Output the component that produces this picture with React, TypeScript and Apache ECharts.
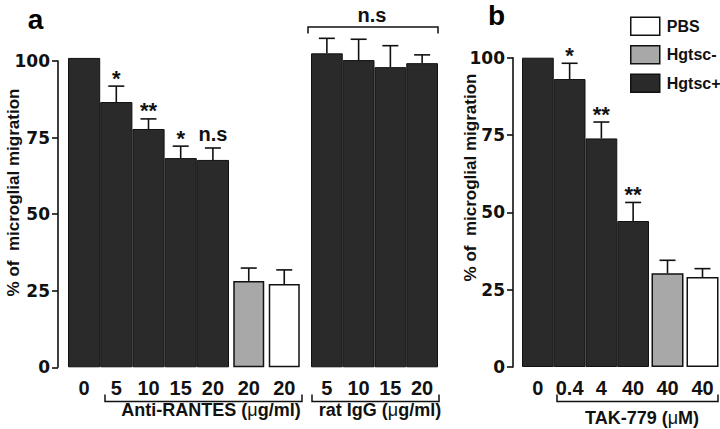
import React, { useEffect, useRef } from "react";
import * as echarts from "echarts";

// ---- data ----
const antiRantesDoses = ["0", "5", "10", "15", "20"];
const antiRantesMean = [101, 86.6, 77.8, 68.3, 67.7];
const antiRantesSem = [0, 5.2, 3.3, 3.9, 3.9];
const antiRantesSig = ["", "*", "**", "*", "n.s"];

const controlADoses = ["20", "20"];
const controlAHgtscMinus = [28.2, "-"];
const controlAPbs = ["-", 27.2];
const controlAMean = [28.2, 27.2];
const controlASem = [4.2, 4.6];

const ratIgGDoses = ["5", "10", "15", "20"];
const ratIgGMean = [102.5, 100.3, 98.0, 99.3];
const ratIgGSem = [4.9, 6.8, 7.0, 2.7];

const takDoses = ["0", "0.4", "4", "40"];
const takMean = [100, 93.1, 73.9, 47.2];
const takSem = [0, 5.1, 5.3, 6.0];
const takSig = ["", "*", "**", "**"];

const controlBDoses = ["40", "40"];
const controlBHgtscMinus = [30.3, "-"];
const controlBPbs = ["-", 29.1];
const controlBMean = [30.3, 29.1];
const controlBSem = [4.2, 2.7];

const legendNames = ["PBS", "Hgtsc-", "Hgtsc+"];

// ---- styles ----
const BLACK = "#2a2a2a";
const GRAY = "#a8a8a8";
const WHITE = "#ffffff";
const LINE = "#111111";
const SANS = "'Liberation Sans', Arial, Helvetica, sans-serif";
const DEJAVU = "'DejaVu Sans', sans-serif";

const errData = (mean: number[], sem: number[]) => mean.map((m, i) => [i, m, sem[i]]);

function errRender(sig: string[] | null) {
  return (params: any, api: any) => {
    const i = api.value(0);
    const v = api.value(1);
    const e = api.value(2);
    const base = api.coord([i, v]);
    const top = api.coord([i, v + e]);
    const children: any[] = [];
    if (e > 0) {
      children.push({
        type: "line",
        shape: { x1: base[0], y1: base[1], x2: top[0], y2: top[1] },
        style: { stroke: LINE, lineWidth: 1.6 },
      });
      children.push({
        type: "line",
        shape: { x1: top[0] - 8, y1: top[1], x2: top[0] + 8, y2: top[1] },
        style: { stroke: LINE, lineWidth: 1.6 },
      });
    }
    const s = sig ? sig[params.dataIndex] : "";
    if (s) {
      const star = s.indexOf("*") >= 0;
      children.push({
        type: "text",
        x: top[0],
        y: top[1] - (star ? 8 : 14),
        style: {
          text: s,
          fill: LINE,
          fontSize: star ? 22 : 20,
          fontWeight: "bold",
          fontFamily: SANS,
          align: "center",
          verticalAlign: "middle",
          textAlign: "center",
          textVerticalAlign: "middle",
        },
      });
    }
    return { type: "group", children };
  };
}

export default function App() {
  const ref = useRef<HTMLDivElement>(null);

  useEffect(() => {
    if (!ref.current) return;
    const chart = echarts.init(ref.current, null, { renderer: "svg" });

    const gridsDef = [
      { left: 68, top: 61, width: 161, height: 306.3 },
      { left: 231, top: 61, width: 71, height: 306.3 },
      { left: 311, top: 61, width: 127, height: 306.3 },
      { left: 522, top: 57.7, width: 127, height: 309.3 },
      { left: 650, top: 57.7, width: 70, height: 309.3 },
    ];
    const grids = gridsDef.map((g) => ({ ...g, containLabel: false, outerBoundsMode: "none" }));

    const catLists = [antiRantesDoses, controlADoses, ratIgGDoses, takDoses, controlBDoses];
    const xAxes = catLists.map((cats, idx) => ({
      type: "category",
      gridIndex: idx,
      data: cats,
      boundaryGap: true,
      axisLine: { show: false },
      axisTick: { show: false },
      axisLabel: {
        color: LINE,
        fontFamily: SANS,
        fontWeight: "bold",
        fontSize: 20,
        margin: 11,
        interval: 0,
      },
    }));

    const shownY = (idx: number, offset: number) => ({
      type: "value",
      gridIndex: idx,
      min: 0,
      max: 100,
      interval: 25,
      offset,
      axisLine: { show: true, lineStyle: { color: LINE, width: 1.6 } },
      axisTick: { show: true, length: 6, inside: false, lineStyle: { color: LINE, width: 1.6 } },
      splitLine: { show: false },
      axisLabel: {
        color: LINE,
        fontFamily: DEJAVU,
        fontWeight: "bold",
        fontSize: 17,
        margin: 8,
      },
    });
    const hiddenY = (idx: number) => ({
      type: "value",
      gridIndex: idx,
      min: 0,
      max: 100,
      interval: 25,
      show: false,
      splitLine: { show: false },
    });
    const yAxes = [shownY(0, 10), hiddenY(1), hiddenY(2), shownY(3, 9), hiddenY(4)];

    const blackStyle = { color: BLACK, borderColor: LINE, borderWidth: 1 };
    const grayStyle = { color: GRAY, borderColor: LINE, borderWidth: 1.5 };
    const whiteStyle = { color: WHITE, borderColor: LINE, borderWidth: 1.5 };

    const bar = (name: string, axis: number, data: any[], style: any, width: any, extra: any = {}) => ({
      type: "bar",
      name,
      xAxisIndex: axis,
      yAxisIndex: axis,
      data,
      barWidth: width,
      itemStyle: style,
      clip: false,
      silent: true,
      ...extra,
    });

    const err = (axis: number, data: any[], sig: string[] | null) => ({
      type: "custom",
      xAxisIndex: axis,
      yAxisIndex: axis,
      data,
      clip: false,
      silent: true,
      z: 5,
      encode: { x: 0, y: 1 },
      renderItem: errRender(sig),
    });

    const series = [
      bar("Hgtsc+", 0, antiRantesMean, blackStyle, "100%"),
      bar("Hgtsc-", 1, controlAHgtscMinus, grayStyle, 31),
      bar("PBS", 1, controlAPbs, whiteStyle, 31, { barGap: "-100%" }),
      bar("Hgtsc+", 2, ratIgGMean, blackStyle, "100%"),
      bar("Hgtsc+", 3, takMean, blackStyle, "100%"),
      bar("Hgtsc-", 4, controlBHgtscMinus, grayStyle, 32),
      bar("PBS", 4, controlBPbs, whiteStyle, 32, { barGap: "-100%" }),
      err(0, errData(antiRantesMean, antiRantesSem), antiRantesSig),
      err(1, errData(controlAMean, controlASem), null),
      err(2, errData(ratIgGMean, ratIgGSem), null),
      err(3, errData(takMean, takSem), takSig),
      err(4, errData(controlBMean, controlBSem), null),
    ];

    const legendStyles: Record<string, any> = {
      PBS: { color: WHITE, borderColor: LINE, borderWidth: 1.5 },
      "Hgtsc-": { color: GRAY, borderColor: LINE, borderWidth: 1.5 },
      "Hgtsc+": { color: BLACK, borderColor: LINE, borderWidth: 1.5 },
    };

    const titleText = (text: string, x: number, y: number, rotate = false) => ({
      type: "text",
      x,
      y,
      rotation: rotate ? Math.PI / 2 : 0,
      silent: true,
      style: {
        text,
        fill: LINE,
        fontSize: 17,
        fontWeight: "bold",
        fontFamily: SANS,
        textAlign: "center",
        textVerticalAlign: "middle",
        align: "center",
        verticalAlign: "middle",
      },
    });

    const muText = (before: string, after: string, x: number, y: number) => ({
      type: "text",
      x,
      y,
      silent: true,
      style: {
        text: `{b|${before}}{m|μ}{b|${after}}`,
        textAlign: "center",
        textVerticalAlign: "middle",
        align: "center",
        verticalAlign: "middle",
        rich: {
          b: { fontSize: 18, fontWeight: "bold", fontFamily: SANS, fill: LINE, color: LINE },
          m: { fontSize: 18, fontWeight: "normal", fontFamily: SANS, fill: LINE, color: LINE },
        },
      },
    });

    const bracket = (pts: number[][]) => ({
      type: "polyline",
      silent: true,
      shape: { points: pts },
      style: { stroke: LINE, lineWidth: 1.5, fill: "none" },
    });

    const letter = (t: string, x: number, y: number) => ({
      type: "text",
      x,
      y,
      silent: true,
      style: {
        text: t,
        fill: "#000",
        fontSize: 28,
        fontWeight: "bold",
        fontFamily: SANS,
        textAlign: "center",
        textVerticalAlign: "middle",
        align: "center",
        verticalAlign: "middle",
      },
    });

    chart.setOption({
      animation: false,
      backgroundColor: "#ffffff",
      grid: grids,
      xAxis: xAxes,
      yAxis: yAxes,
      series,
      legend: {
        orient: "vertical",
        left: 625,
        top: 11.5,
        itemWidth: 29,
        itemHeight: 18,
        itemGap: 9,
        selectedMode: false,
        icon: "rect",
        textStyle: {
          color: LINE,
          fontFamily: SANS,
          fontWeight: "bold",
          fontSize: 16,
          padding: [0, 0, 0, 2],
        },
        data: legendNames.map((n) => ({ name: n, icon: "rect", itemStyle: legendStyles[n] })),
      },
      graphic: [
        letter("a", 35.5, 19.5),
        letter("b", 496.5, 15.5),
        titleText("% of  microglial migration", 13, 192.5, true),
        titleText("% of  microglial migration", 470, 177.5, true),
        bracket([[105, 394.5], [105, 401.5], [302, 401.5], [302, 394.5]]),
        bracket([[312, 394.5], [312, 401.5], [439, 401.5], [439, 394.5]]),
        bracket([[557, 394.5], [557, 401.5], [718, 401.5], [718, 394.5]]),
        bracket([[308, 33.5], [308, 27], [438, 27], [438, 33.5]]),
        {
          type: "text",
          x: 372,
          y: 15,
          silent: true,
          style: {
            text: "n.s",
            fill: LINE,
            fontSize: 20,
            fontWeight: "bold",
            fontFamily: SANS,
            textAlign: "center",
            textVerticalAlign: "middle",
            align: "center",
            verticalAlign: "middle",
          },
        },
        muText("Anti-RANTES (", "g/ml)", 211, 410),
        muText("rat IgG (", "g/ml)", 380, 410),
        muText("TAK-779 (", "M)", 642, 418),
      ],
    });

    return () => chart.dispose();
  }, []);

  return (
    <div
      ref={ref}
      style={{ position: "fixed", left: 0, top: 0, width: 720, height: 429, background: "#fff" }}
    />
  );
}
